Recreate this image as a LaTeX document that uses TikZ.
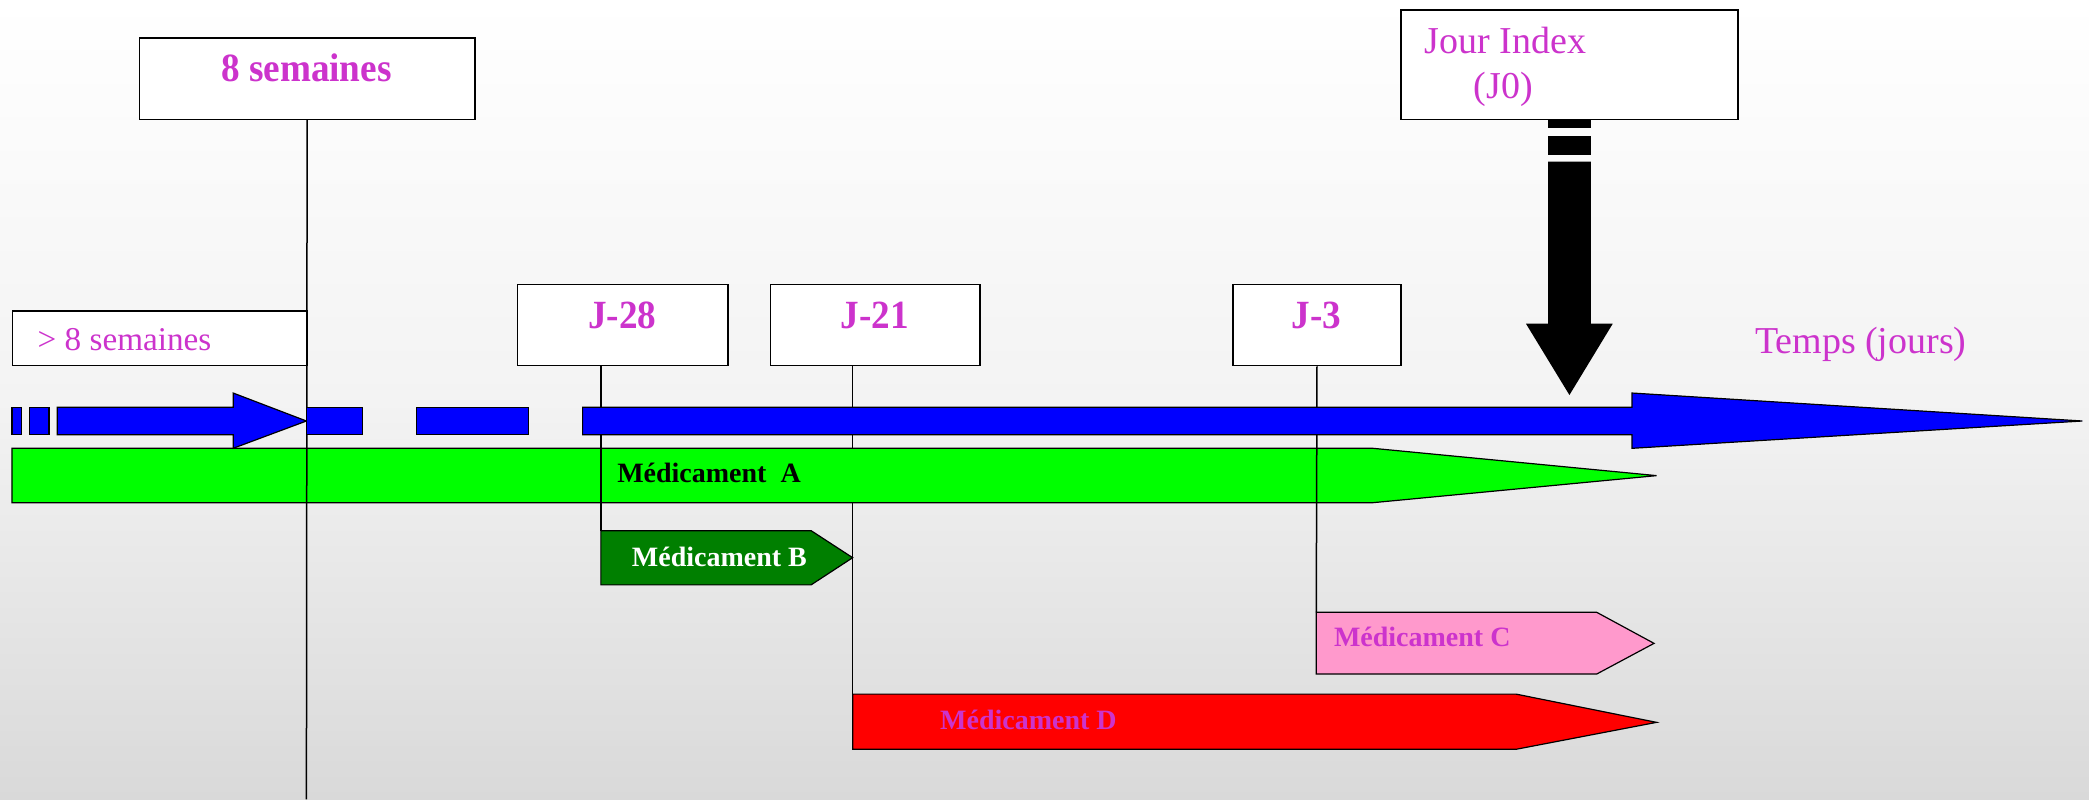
\documentclass[tikz,border=0pt]{standalone}
\usepackage{fontspec}
\setmainfont{Liberation Serif}
\newfontfamily\condfont[FakeStretch=0.93]{Liberation Serif}
\newlength\unitlen
\setlength\unitlen{0.66614pt}
\definecolor{mag}{RGB}{204,51,204}
\definecolor{bgtop}{RGB}{255,255,255}
\definecolor{bgmid}{RGB}{243,243,243}
\definecolor{bgbot}{RGB}{217,217,217}
\definecolor{bblue}{RGB}{0,0,255}
\definecolor{lgreen}{RGB}{0,255,0}
\definecolor{dgreen}{RGB}{0,127,0}
\definecolor{pinkc}{RGB}{255,153,204}
\definecolor{redd}{RGB}{255,0,0}
\begin{document}
\begin{tikzpicture}[x=0.66614pt, y=-0.66614pt,
  box/.style={draw=black, fill=white, line width=0.7pt, inner sep=0pt, anchor=north west},
  bar/.style={draw=black, line width=0.6pt, line join=miter},
  vline/.style={draw=black, line width=0.75pt},
  bigl/.style={font=\condfont\bfseries\fontsize{20}{24}\selectfont, text=mag, inner sep=0pt, anchor=base},
  regl/.style={font=\rmfamily\fontsize{16.6}{20}\selectfont, text=mag, inner sep=0pt, anchor=base west},
  jl/.style={font=\rmfamily\fontsize{19}{23}\selectfont, text=mag, inner sep=0pt, anchor=base west},
  medl/.style={font=\rmfamily\bfseries\fontsize{14}{17}\selectfont, inner sep=0pt, anchor=base west}]
\useasboundingbox (0,0) rectangle (1568,600);
% background
\shade[top color=bgtop, bottom color=bgmid] (0,0) rectangle (1568,300.5);
\shade[top color=bgmid, bottom color=bgbot] (0,300) rectangle (1568,600);

\coordinate (Btl) at (451,398.3);
\coordinate (Ctl) at (988,459.6);
\coordinate (Dtl) at (640,521);
\coordinate (b8) at (230,600);

% boxes
\node[box, minimum width=252*\unitlen, minimum height=61*\unitlen] (s8) at (104,28) {};
\node[box, minimum width=221*\unitlen, minimum height=41*\unitlen] (g8) at (9,233) {};
\node[box, minimum width=158*\unitlen, minimum height=61*\unitlen] (j28) at (388,213) {};
\node[box, minimum width=157*\unitlen, minimum height=61*\unitlen] (j21) at (578,213) {};
\node[box, minimum width=126*\unitlen, minimum height=61*\unitlen] (j3) at (925,213) {};
\node[box, minimum width=253*\unitlen, minimum height=82*\unitlen] (j0) at (1051,7) {};

% J-21 marker lies behind the green bar
\draw[vline] (j21.south -| Dtl) -- (Dtl);

% drug bars
\path[bar, fill=lgreen] (9,336.5) -- (1030.6,336.5) -- (1243.4,357) -- (1030.6,377.3) -- (9,377.3) -- cycle;
\path[bar, fill=dgreen] (451,398.3) -- (608.8,398.3) -- (640,418.6) -- (608.8,439) -- (451,439) -- cycle;
\path[bar, fill=pinkc] (988,459.6) -- (1198.5,459.6) -- (1241.5,482.9) -- (1198.5,505.9) -- (988,505.9) -- cycle;
\path[bar, fill=redd] (640,521) -- (1138,521) -- (1243.4,542.2) -- (1138,562.4) -- (640,562.4) -- cycle;

% other vertical markers (over the green bar)
\draw[vline] (s8.south) -- (b8);
\draw[vline] (j28.south -| Btl) -- (Btl);
\draw[vline] (j3.south) -- (Ctl);

% blue time axis (on top of the markers)
\path[bar, fill=bblue] (9,305.7) rectangle (16,326.3);
\path[bar, fill=bblue] (22.4,305.7) rectangle (36.8,326.3);
\path[bar, fill=bblue] (43,305.7) -- (175,305.7) -- (175,295) -- (230,316) -- (175,336.5) -- (175,326.3) -- (43,326.3) -- cycle;
\path[bar, fill=bblue] (230,305.7) rectangle (272,326.3);
\path[bar, fill=bblue] (312.6,305.7) rectangle (396.4,326.3);
\path[bar, fill=bblue] (437.3,305.7) -- (1225,305.7) -- (1225,295) -- (1563,316) -- (1225,336.5) -- (1225,326.3) -- (437.3,326.3) -- cycle;

% black index arrow
\fill[black] (1162,89) rectangle (1194,96);
\fill[black] (1162,102) rectangle (1194,116);
\fill[black] (1162,121.4) -- (1194,121.4) -- (1194,243) -- (1210.5,243) -- (1178,296.5) -- (1145.4,243) -- (1162,243) -- cycle;

% labels
\node[bigl] (t8) at (230,61.3) {8 semaines};
\node[bigl] (t28) at (467,246.4) {J-28};
\node[bigl] (t21) at (656.5,246.4) {J-21};
\node[bigl] (t3) at (988,246.4) {J-3};
\node[regl] (tg8) at (28,263) {\textgreater{} 8 semaines};
\node[jl] (tj0a) at (1069,40) {Jour Index};
\node[jl] (tj0b) at (1106,73.8) {(J0)};
\node[jl] (ttemps) at (1317,265.7) {Temps (jours)};
\node[medl, text=black] (tA) at (463,362) {Médicament\ \ A};
\node[medl, text=white] (tB) at (474,425.3) {Médicament B};
\node[medl, text=mag] (tC) at (1001,485.4) {Médicament C};
\node[medl, text=mag] (tD) at (705.4,547.4) {Médicament D};
\end{tikzpicture}
\end{document}
